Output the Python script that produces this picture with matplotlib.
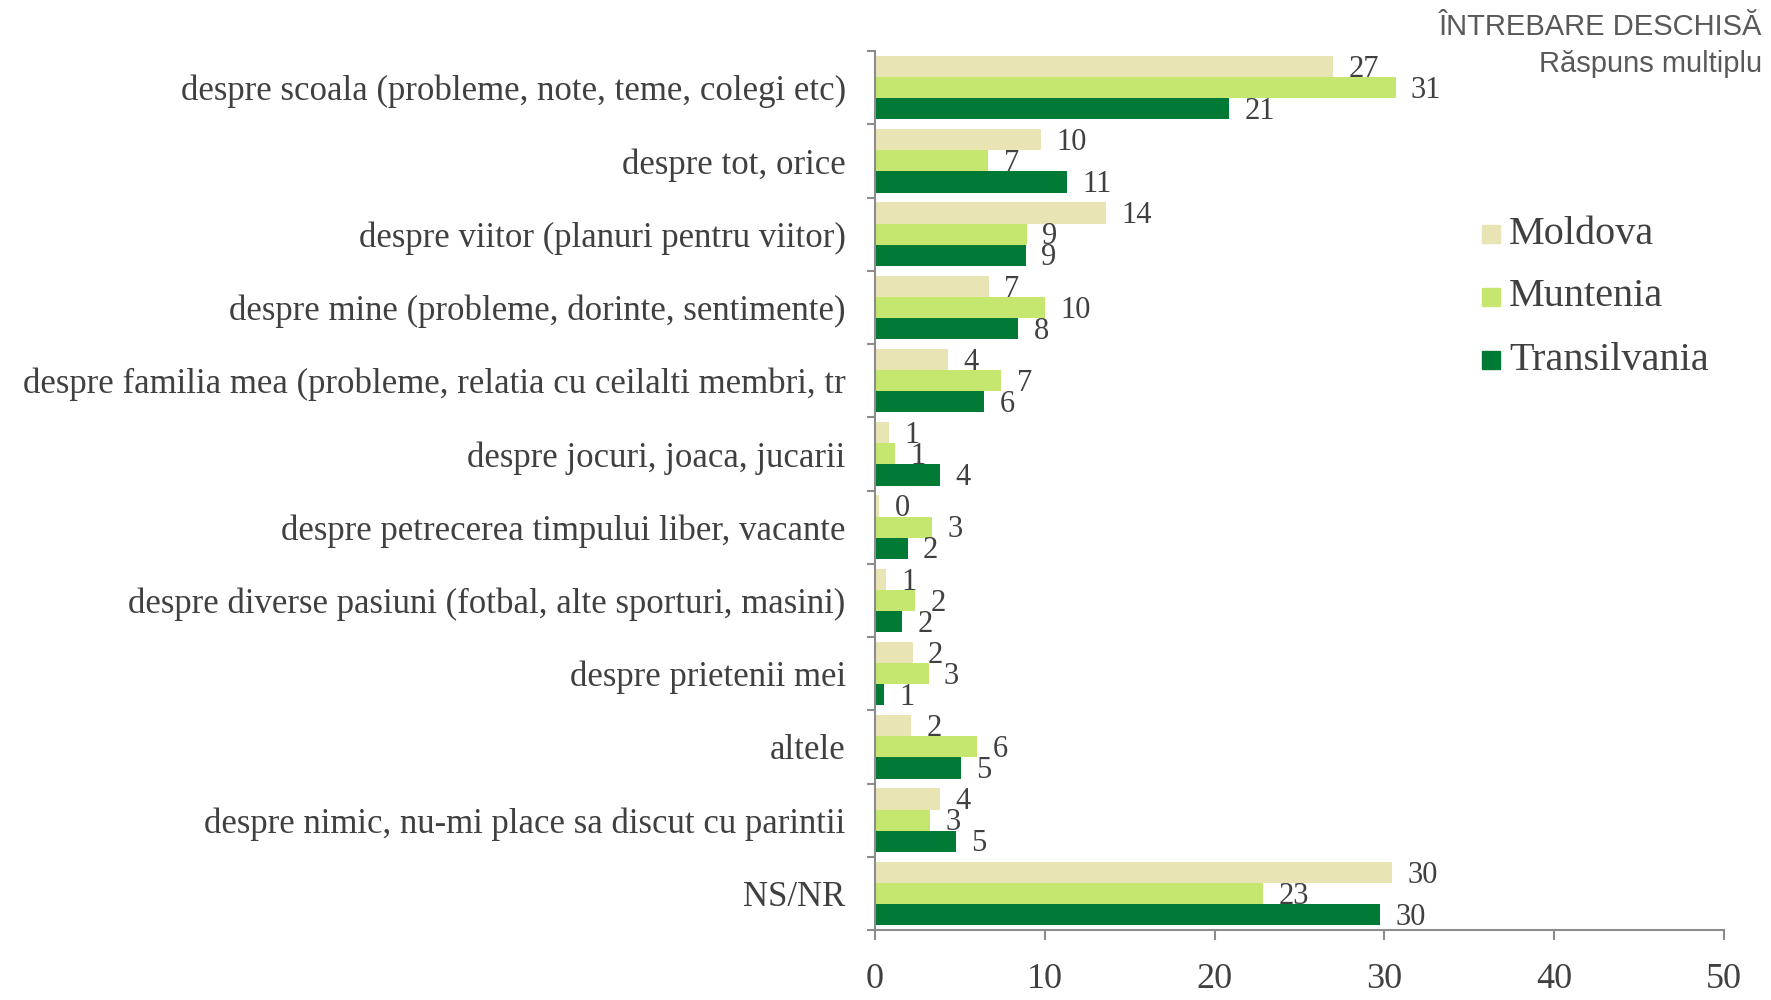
import numpy as np
import matplotlib
matplotlib.use("Agg")
import matplotlib.pyplot as plt
from matplotlib.patches import Rectangle

# categorii (de sus in jos)
categories = [
    "despre scoala (probleme, note, teme, colegi etc)",
    "despre tot, orice",
    "despre viitor (planuri pentru viitor)",
    "despre mine (probleme, dorinte, sentimente)",
    "despre familia mea (probleme, relatia cu ceilalti membri, tr",
    "despre jocuri, joaca, jucarii",
    "despre petrecerea timpului liber, vacante",
    "despre diverse pasiuni (fotbal, alte sporturi, masini)",
    "despre prietenii mei",
    "altele",
    "despre nimic, nu-mi place sa discut cu parintii",
    "NS/NR",
]
series_names = ["Moldova", "Muntenia", "Transilvania"]
moldova = [26.97, 9.79, 13.6, 6.72, 4.3, 0.84, 0.27, 0.65, 2.23, 2.13, 3.83, 30.45]
muntenia = [30.66, 6.68, 8.93, 10.0, 7.45, 1.18, 3.37, 2.38, 3.16, 6.04, 3.24, 22.85]
transilvania = [20.85, 11.33, 8.9, 8.44, 6.45, 3.85, 1.94, 1.6, 0.55, 5.05, 4.76, 29.75]
xticks = [0, 10, 20, 30, 40, 50]

colors = ["#E9E4B3", "#C5E770", "#017A36"]
text_col = "#404040"
axis_col = "#8C8C8C"
serif = "Liberation Serif"

fig = plt.figure(figsize=(17.71, 10), dpi=100)
ax = fig.add_axes([0.494, 0.070, 0.4795, 0.879])

y = np.arange(len(categories))
h = 0.288
for i, (vals, col) in enumerate(zip([moldova, muntenia, transilvania], colors)):
    pos = y + (i - 1) * h
    ax.barh(pos, vals, height=h, color=col, edgecolor="none", zorder=2)
    for p, v in zip(pos, vals):
        ax.annotate("%.0f" % v, (v, p), xytext=(11, -2), textcoords="offset points",
                    va="center", ha="left", fontsize=22, family=serif, color=text_col)

ax.set_xlim(0, 50)
ax.set_ylim(len(categories) - 0.5, -0.5)

for s in ["top", "right"]:
    ax.spines[s].set_visible(False)
for s in ["left", "bottom"]:
    ax.spines[s].set_color(axis_col)
    ax.spines[s].set_linewidth(1.5)

ax.set_xticks(xticks)
ax.set_xticklabels([str(t) for t in xticks], fontsize=26, family=serif, color=text_col)
ax.tick_params(axis="x", length=7, width=1.5, color=axis_col, pad=17)

ax.set_yticks(y)
ax.set_yticklabels(categories, fontsize=25, family=serif, color=text_col)
ax.set_yticks(np.arange(len(categories) + 1) - 0.5, minor=True)
ax.tick_params(axis="y", which="major", length=0, pad=21)
ax.tick_params(axis="y", which="minor", length=6, width=1.5, color=axis_col)

# legenda
leg_y = [234, 297, 360]
for name, col, yy in zip(series_names, colors, leg_y):
    fig.patches.append(Rectangle((1482 / 1771, 1 - (yy + 9) / 1000), 18 / 1771, 18 / 1000,
                                 transform=fig.transFigure, color=col))
    fig.text(1509 / 1771, 1 - yy / 1000, name, fontsize=29, family=serif,
             color=text_col, va="center", ha="left")

fig.text(0.995, 1 - 27 / 1000, "ÎNTREBARE DESCHISĂ", fontsize=21, family="Liberation Sans",
         color="#595959", ha="right", va="center")
fig.text(0.995, 1 - 64 / 1000, "Răspuns multiplu", fontsize=21, family="Liberation Sans",
         color="#595959", ha="right", va="center")

fig.savefig("out.png", dpi=100, facecolor="white")
